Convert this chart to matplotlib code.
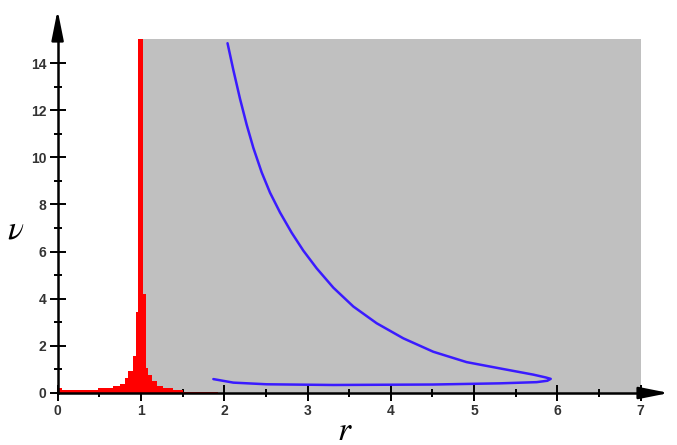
import matplotlib
matplotlib.use("Agg")
import matplotlib.pyplot as plt

# ---- data ----
hist_edges = [0.00, 0.05, 0.49, 0.67, 0.75, 0.81, 0.85, 0.90, 0.94, 0.97,
              1.03, 1.06, 1.09, 1.13, 1.19, 1.27, 1.39, 1.51, 1.93]
hist_heights = [0.20, 0.12, 0.20, 0.28, 0.40, 0.62, 0.95, 1.55, 3.45, 18.0,
                4.20, 1.05, 0.75, 0.50, 0.30, 0.20, 0.13, 0.06]

curve_r = [2.04, 2.11, 2.19, 2.27, 2.35, 2.45, 2.55, 2.67, 2.81, 2.95, 3.11,
           3.31, 3.55, 3.83, 4.15, 4.51, 4.91, 5.33, 5.71, 5.86, 5.92,
           5.88, 5.75, 5.31, 4.51, 3.31, 2.51, 2.11, 1.87]
curve_nu = [14.84, 13.70, 12.48, 11.38, 10.40, 9.36, 8.50, 7.66, 6.80, 6.04, 5.29,
            4.47, 3.67, 2.96, 2.32, 1.75, 1.31, 1.03, 0.78, 0.66, 0.60,
            0.52, 0.46, 0.41, 0.36, 0.34, 0.37, 0.44, 0.59]

region_r = [1.0, 7.0]
region_nu = [0.0, 15.0]

x_major = [0, 1, 2, 3, 4, 5, 6, 7]
y_major = [0, 2, 4, 6, 8, 10, 12, 14]

plt.rcParams["mathtext.fontset"] = "stix"

# ---- figure ----
W, H = 677, 445
fig = plt.figure(figsize=(W / 100, H / 100), dpi=100)
xlim = (-0.1, 7.4)
ylim = (-0.5, 16.6)
px_x = 83.3
px_y = 23.57
x0_px = 57.6
y0_px = 393.0
left = (x0_px + xlim[0] * px_x) / W
width = (xlim[1] - xlim[0]) * px_x / W
bottom = (H - (y0_px - ylim[0] * px_y)) / H
height = (ylim[1] - ylim[0]) * px_y / H
ax = fig.add_axes([left, bottom, width, height])
ax.set_xlim(*xlim)
ax.set_ylim(*ylim)
ax.patch.set_alpha(0)

# gray region
ax.fill_between(region_r, region_nu[0], region_nu[1], color="#c0c0c0", lw=0, zorder=1)

# red histogram, clipped at top of region
ax.stairs(hist_heights, hist_edges, fill=True, color="#ff0000", lw=0, zorder=2)
ax.add_patch(plt.Rectangle((0.9, 15.0), 0.2, 3, color="white", zorder=2.5, lw=0))

# blue curve
ax.plot(curve_r, curve_nu, color="#3a1bff", lw=1.8, zorder=3,
        solid_joinstyle="round", solid_capstyle="round")

# axes styling
for s in ["top", "right"]:
    ax.spines[s].set_visible(False)
ax.spines["left"].set_position(("data", 0))
ax.spines["bottom"].set_position(("data", 0))
ax.spines["left"].set_bounds(0, 15.6)
ax.spines["bottom"].set_bounds(0, 7.05)
for s in ["left", "bottom"]:
    ax.spines[s].set_linewidth(1.8)
    ax.spines[s].set_zorder(4)

ax.set_xticks(x_major)
ax.set_yticks(y_major)
ax.set_xticks([0.5, 1.5, 2.5, 3.5, 4.5, 5.5, 6.5], minor=True)
ax.set_yticks([1, 3, 5, 7, 9, 11, 13, 15], minor=True)
ax.tick_params(which="major", direction="inout", length=12, width=1.4, color="black",
               labelsize=10, labelcolor="#333333", pad=2)
ax.tick_params(which="minor", direction="inout", length=6, width=1.4, color="black")
for lab in ax.get_xticklabels() + ax.get_yticklabels():
    lab.set_family("Liberation Sans")
    lab.set_fontweight("bold")

# arrow heads
arrow_style = "-|>,head_length=1.5,head_width=0.3"
ax.annotate("", xy=(7.34, 0), xytext=(7.02, 0),
            arrowprops=dict(arrowstyle=arrow_style, color="black", lw=1.8,
                            mutation_scale=12, shrinkA=0, shrinkB=0),
            zorder=5, annotation_clip=False)
ax.annotate("", xy=(0, 16.25), xytext=(0, 15.1),
            arrowprops=dict(arrowstyle=arrow_style, color="black", lw=1.8,
                            mutation_scale=12, shrinkA=0, shrinkB=0),
            zorder=5, annotation_clip=False)

fig.text(345 / W, 1 - 430 / H, r"$r$", fontsize=24, ha="center", va="center")
fig.text(16 / W, 1 - 229 / H, r"$\nu$", fontsize=24, ha="center", va="center")

fig.savefig("out.png", dpi=100)
